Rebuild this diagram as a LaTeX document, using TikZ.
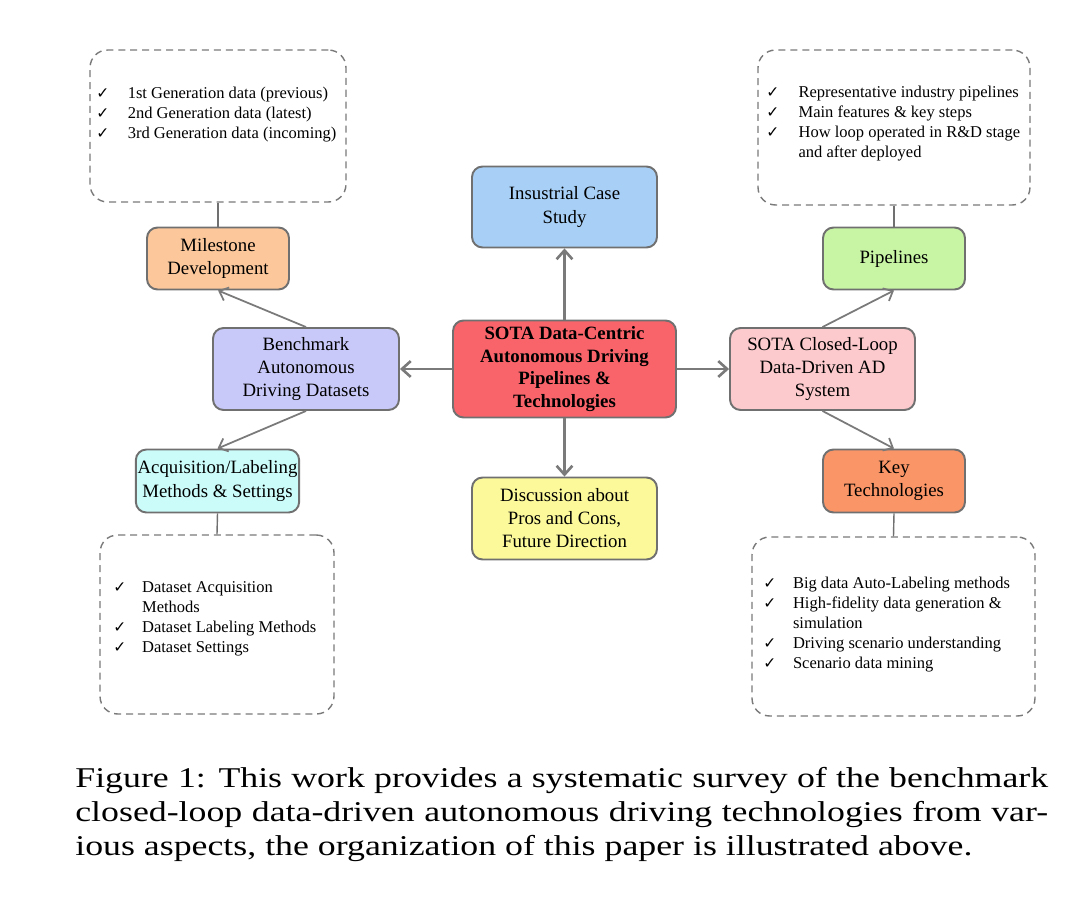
\documentclass[tikz,border=0pt]{standalone}
\usepackage{fontspec}
\setmainfont{Liberation Serif}
\newfontfamily\symfont{DejaVu Sans}
\newfontfamily\capfont[FakeStretch=1.25]{Liberation Serif}
\usepackage{tikz}
\usetikzlibrary{arrows.meta, positioning}
\usepackage{xcolor}

\definecolor{edgegray}{HTML}{707070}
\definecolor{arrgray}{HTML}{7A7A7A}
\definecolor{insblue}{HTML}{A8D0F6}
\definecolor{mileorange}{HTML}{FCC89B}
\definecolor{benchpurple}{HTML}{C9C9F9}
\definecolor{acqcyan}{HTML}{CBFCFA}
\definecolor{corered}{HTML}{F9646A}
\definecolor{discyellow}{HTML}{FBF99A}
\definecolor{sotapink}{HTML}{FCCACC}
\definecolor{pipegreen}{HTML}{C8F5A4}
\definecolor{keyorange}{HTML}{F99567}

\newcommand{\ck}{{\symfont\fontsize{8.8}{11.4}\selectfont ✓}}

\begin{document}
\begin{tikzpicture}[x=0.02cm,y=-0.02cm,
    topic/.style={draw=edgegray, line width=1.1pt, rounded corners=6pt, align=center,
        inner sep=2pt, font=\fontsize{10.7}{13.1}\selectfont},
    note/.style={draw=arrgray, line width=0.8pt, dash pattern=on 4pt off 2.8pt,
        rounded corners=10pt},
    items/.style={anchor=north west, inner sep=0pt, align=left,
        font=\fontsize{9.4}{11.4}\selectfont},
    mainarr/.style={draw=arrgray, line width=1.5pt, -{Straight Barb[length=5pt,width=9pt]}},
    subarr/.style={draw=arrgray, line width=1pt, -{Straight Barb[length=4.5pt,width=8pt]}},
    link/.style={draw=edgegray, line width=0.8pt}]
    \useasboundingbox (0,0) rectangle (1080,923);

    % centre
    \node[topic, fill=corered, minimum width=4.46cm, minimum height=1.94cm,
        font=\fontsize{10.7}{12.9}\selectfont\bfseries] (core) at (564.5,369)
        {SOTA Data-Centric\\Autonomous Driving\\Pipelines \&\\Technologies};
    \node[topic, fill=insblue, minimum width=3.7cm, minimum height=1.62cm] (case) at (564.5,207)
        {Insustrial Case\\Study};
    \node[topic, fill=discyellow, minimum width=3.7cm, minimum height=1.64cm] (disc) at (564.5,518.5)
        {Discussion about\\Pros and Cons,\\Future Direction};

    % left branch
    \node[topic, fill=benchpurple, minimum width=3.72cm, minimum height=1.64cm] (bench) at (306,369)
        {Benchmark\\Autonomous\\Driving Datasets};
    \node[topic, fill=mileorange, minimum width=2.84cm, minimum height=1.24cm] (mile) at (218,258.5)
        {Milestone\\Development};
    \node[topic, fill=acqcyan, minimum width=2.98cm, minimum height=1.26cm, inner sep=1pt] (acq) at (217.5,481)
        {Acquisition/Labeling\\Methods \& Settings};

    % right branch
    \node[topic, fill=sotapink, minimum width=3.7cm, minimum height=1.64cm] (sota) at (822.5,369)
        {SOTA Closed-Loop\\Data-Driven AD\\System};
    \node[topic, fill=pipegreen, minimum width=2.84cm, minimum height=1.24cm] (pipe) at (894,258.5)
        {Pipelines};
    \node[topic, fill=keyorange, minimum width=2.84cm, minimum height=1.26cm] (key) at (894,481)
        {Key\\Technologies};

    % dashed notes
    \node[note, minimum width=5.12cm, minimum height=3.04cm] (mnote) at (218,126) {};
    \node[note, minimum width=5.44cm, minimum height=3.1cm] (pnote) at (894,127.5) {};
    \node[note, minimum width=4.68cm, minimum height=3.58cm] (anote) at (217,624.5) {};
    \node[note, minimum width=5.66cm, minimum height=3.58cm] (knote) at (893.5,626.5) {};

    \node[items] (mlist) at (96,84) {%
        \begin{tabular}{@{}l@{\hspace{10.5pt}}l@{}}
        \ck & 1st Generation data (previous)\\
        \ck & 2nd Generation data (latest)\\
        \ck & 3rd Generation data (incoming)
        \end{tabular}};
    \node[items] (plist) at (766,83) {%
        \begin{tabular}{@{}l@{\hspace{11pt}}l@{}}
        \ck & Representative industry pipelines\\
        \ck & Main features \& key steps\\
        \ck & How loop operated in R\&D stage\\
            & and after deployed
        \end{tabular}};
    \node[items] (alist) at (113,578) {%
        \begin{tabular}{@{}l@{\hspace{9pt}}l@{}}
        \ck & Dataset Acquisition\\
            & Methods\\
        \ck & Dataset Labeling Methods\\
        \ck & Dataset Settings
        \end{tabular}};
    \node[items] (klist) at (763,574) {%
        \begin{tabular}{@{}l@{\hspace{9.5pt}}l@{}}
        \ck & Big data Auto-Labeling methods\\
        \ck & High-fidelity data generation \&\\
            & simulation\\
        \ck & Driving scenario understanding\\
        \ck & Scenario data mining
        \end{tabular}};

    % arrows
    \draw[mainarr] (core) -- (case);
    \draw[mainarr] (core) -- (disc);
    \draw[mainarr] (core) -- (bench);
    \draw[mainarr] (core) -- (sota);
    \draw[subarr] (bench.north) -- (mile.south);
    \draw[subarr] (bench.south) -- (acq.north);
    \draw[subarr] (sota.north) -- (pipe.south);
    \draw[subarr] (sota.south) -- (key.north);
    \draw[link] (mnote.south) -- (mile.north);
    \draw[link] (acq.south) -- (anote.north);
    \draw[link] (pnote.south) -- (pipe.north);
    \draw[link] (key.south) -- (knote.north);

    % caption
    \node[anchor=north west, inner sep=0pt, align=left,
        font=\capfont\fontsize{16.3}{19.3}\selectfont] (caption) at (75,767)
        {\makebox[19.46cm][s]{Figure 1: This work provides a systematic survey of the benchmark}\\
         \makebox[19.46cm][s]{closed-loop data-driven autonomous driving technologies from var-}\\
         ious aspects, the organization of this paper is illustrated above.};
\end{tikzpicture}
\end{document}
